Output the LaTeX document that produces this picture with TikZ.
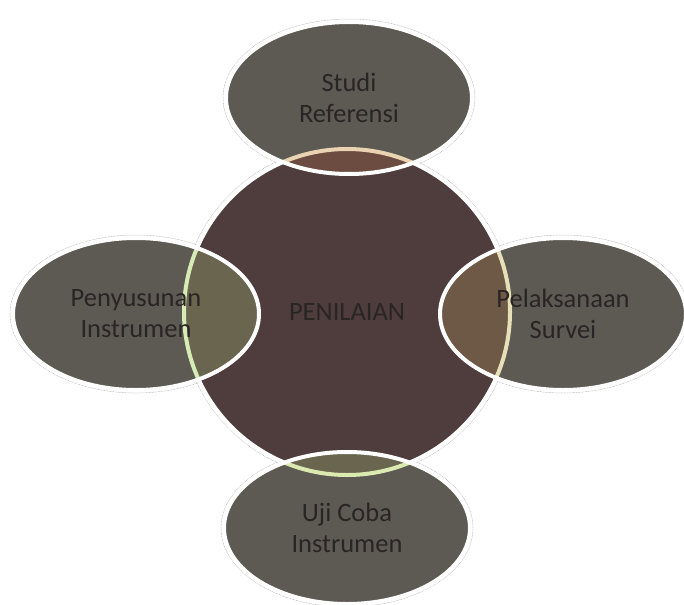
\documentclass[tikz,border=0pt]{standalone}
\usepackage{fontspec}
\setmainfont{Carlito}
\definecolor{circfill}{HTML}{4F3D3D}
\definecolor{ellfill}{HTML}{5D5953}
\definecolor{txtcol}{HTML}{2A2525}
\definecolor{mixtop}{HTML}{6C4B40}
\definecolor{arctop}{HTML}{E9D3B2}
\definecolor{mixleft}{HTML}{69654F}
\definecolor{arcleft}{HTML}{D6EBB5}
\definecolor{mixright}{HTML}{6E5946}
\definecolor{arcright}{HTML}{E6E0B8}
\definecolor{mixbot}{HTML}{6A654F}
\definecolor{arcbot}{HTML}{DBEAB0}
\begin{document}
\begin{tikzpicture}[x=1pt, y=-1pt, line join=round, line cap=round,
	font=\fontsize{26.5}{31}\selectfont,
	ring/.style={draw=white, line width=4pt},
	ghost/.style={draw=black!30, line width=0.5pt, densely dotted},
	lbl/.style={text=txtcol, align=center, inner sep=0pt},
	ell/.style={x radius=123pt, y radius=76pt},
	bigell/.style={x radius=126pt, y radius=79pt}]
		\useasboundingbox (0,0) rectangle (684,604);
		\coordinate (O) at (347,312);
		\coordinate (S) at (349,98);
		\coordinate (P) at (136,314);
		\coordinate (L) at (563,314);
		\coordinate (U) at (347,528);
		% faint outer outlines
		\draw[ghost] (O) circle[radius=166pt];
		\foreach \c in {S,P,L,U}
		\draw[ghost] (\c) ellipse[bigell];
		% center circle
		\fill[circfill] (O) circle[radius=163pt];
		\draw[ring] (O) circle[radius=163pt];
		% outer ellipses
		\foreach \c/\mix/\arc in {S/mixtop/arctop, P/mixleft/arcleft, L/mixright/arcright, U/mixbot/arcbot}{
			\fill[ellfill] (\c) ellipse[ell];
			\begin{scope}
				\clip (O) circle[radius=163pt];
				\fill[\mix] (\c) ellipse[ell];
			\end{scope}
			\begin{scope}
				\clip (\c) ellipse[ell];
				\draw[\arc, line width=4pt] (O) circle[radius=163pt];
			\end{scope}
			\draw[ring] (\c) ellipse[ell];
		}
		\node[lbl] (penilaian) at (O) {PENILAIAN};
		\node[lbl] (studi) at (S) {Studi\\Referensi};
		\node[lbl] (penyusunan) at (P) {Penyusunan\\Instrumen};
		\node[lbl] (pelaksanaan) at (L) {Pelaksanaan\\Survei};
		\node[lbl] (ujicoba) at (U) {Uji Coba\\Instrumen};
		\end{tikzpicture}
\end{document}
